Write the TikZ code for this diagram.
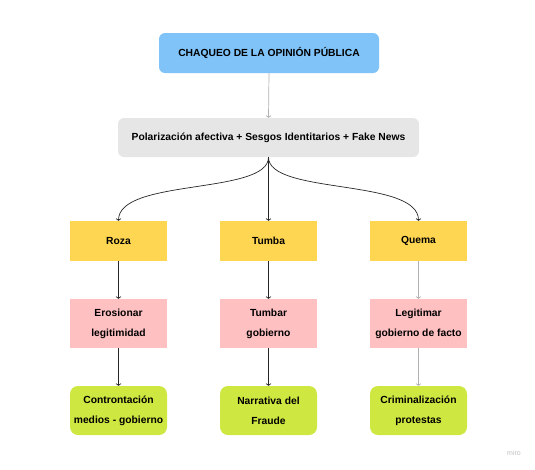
\documentclass[tikz,border=0pt]{standalone}
\usepackage{fontspec}
\setmainfont{Liberation Sans}
\usepackage{xcolor}
\usetikzlibrary{arrows.meta,positioning,calc}
\definecolor{topblue}{HTML}{80C3F8}
\definecolor{basegray}{HTML}{E6E6E6}
\definecolor{actyellow}{HTML}{FFD652}
\definecolor{goalpink}{HTML}{FFC0C2}
\definecolor{effgreen}{HTML}{CEE741}
\definecolor{lightline}{HTML}{B0B0B0}

\begin{document}
\begin{tikzpicture}[
  x=1pt, y=-1pt,
  box/.style={
    inner sep=0pt, align=center,
    font=\fontsize{10.3}{20}\selectfont\bfseries
  },
  headbox/.style={box, fill=topblue, rounded corners=6pt,
    minimum width=220pt, minimum height=40pt},
  basebox/.style={box, fill=basegray, rounded corners=6pt,
    minimum width=301pt, minimum height=39pt},
  actbox/.style={box, fill=actyellow,
    minimum width=97pt, minimum height=40pt},
  goalbox/.style={box, fill=goalpink,
    minimum width=97pt, minimum height=49pt},
  effbox/.style={box, fill=effgreen, rounded corners=8pt,
    minimum width=97pt, minimum height=49pt},
  arr/.style={-{Straight Barb[length=1.8pt,width=5pt]}, line width=0.7pt, black!85},
  arrl/.style={arr, lightline}
]
  \useasboundingbox (0,0) rectangle (535,469);

  % Header and common base
  \node[headbox] (head) at (269,53)    {CHAQUEO DE LA OPINIÓN PÚBLICA};
  \node[basebox] (base) at (268.5,137.5) {Polarización afectiva + Sesgos Identitarios + Fake News};

  % Row of actions
  \node[actbox] (roza)  at (118.5,241) {Roza};
  \node[actbox] (tumba) at (268.5,241) {Tumba};
  \node[actbox] (quema) at (418.5,241) {Quema};

  % Row of goals
  \node[goalbox] (erosion) at (118.5,323.5) {Erosionar\\legitimidad};
  \node[goalbox] (tumbar)  at (268.5,323.5) {Tumbar\\gobierno};
  \node[goalbox] (legit)   at (418.5,323.5) {Legitimar\\gobierno de facto};

  % Row of effects
  \node[effbox] (confr) at (118.5,410.5) {Controntación\\medios - gobierno};
  \node[effbox] (fraud) at (268.5,410.5) {Narrativa del\\Fraude};
  \node[effbox] (crim)  at (418.5,410.5) {Criminalización\\protestas};

  \node[font=\fontsize{7}{8}\selectfont, text=black!25] (miro) at (514,453) {miro};

  \draw[arrl] (head.south) -- (base.north);
  \draw[arr] (base.south) .. controls (268.5,195) and (118.5,178) .. (roza.north);
  \draw[arr] (base.south) -- (tumba.north);
  \draw[arr] (base.south) .. controls (268.5,195) and (418.5,178) .. (quema.north);

  \draw[arr]  (roza.south)  -- (erosion.north);
  \draw[arr]  (tumba.south) -- (tumbar.north);
  \draw[arrl] (quema.south) -- (legit.north);
  \draw[arr]  (erosion.south) -- (confr.north);
  \draw[arr]  (tumbar.south)  -- (fraud.north);
  \draw[arrl] (legit.south)   -- (crim.north);
\end{tikzpicture}
\end{document}
